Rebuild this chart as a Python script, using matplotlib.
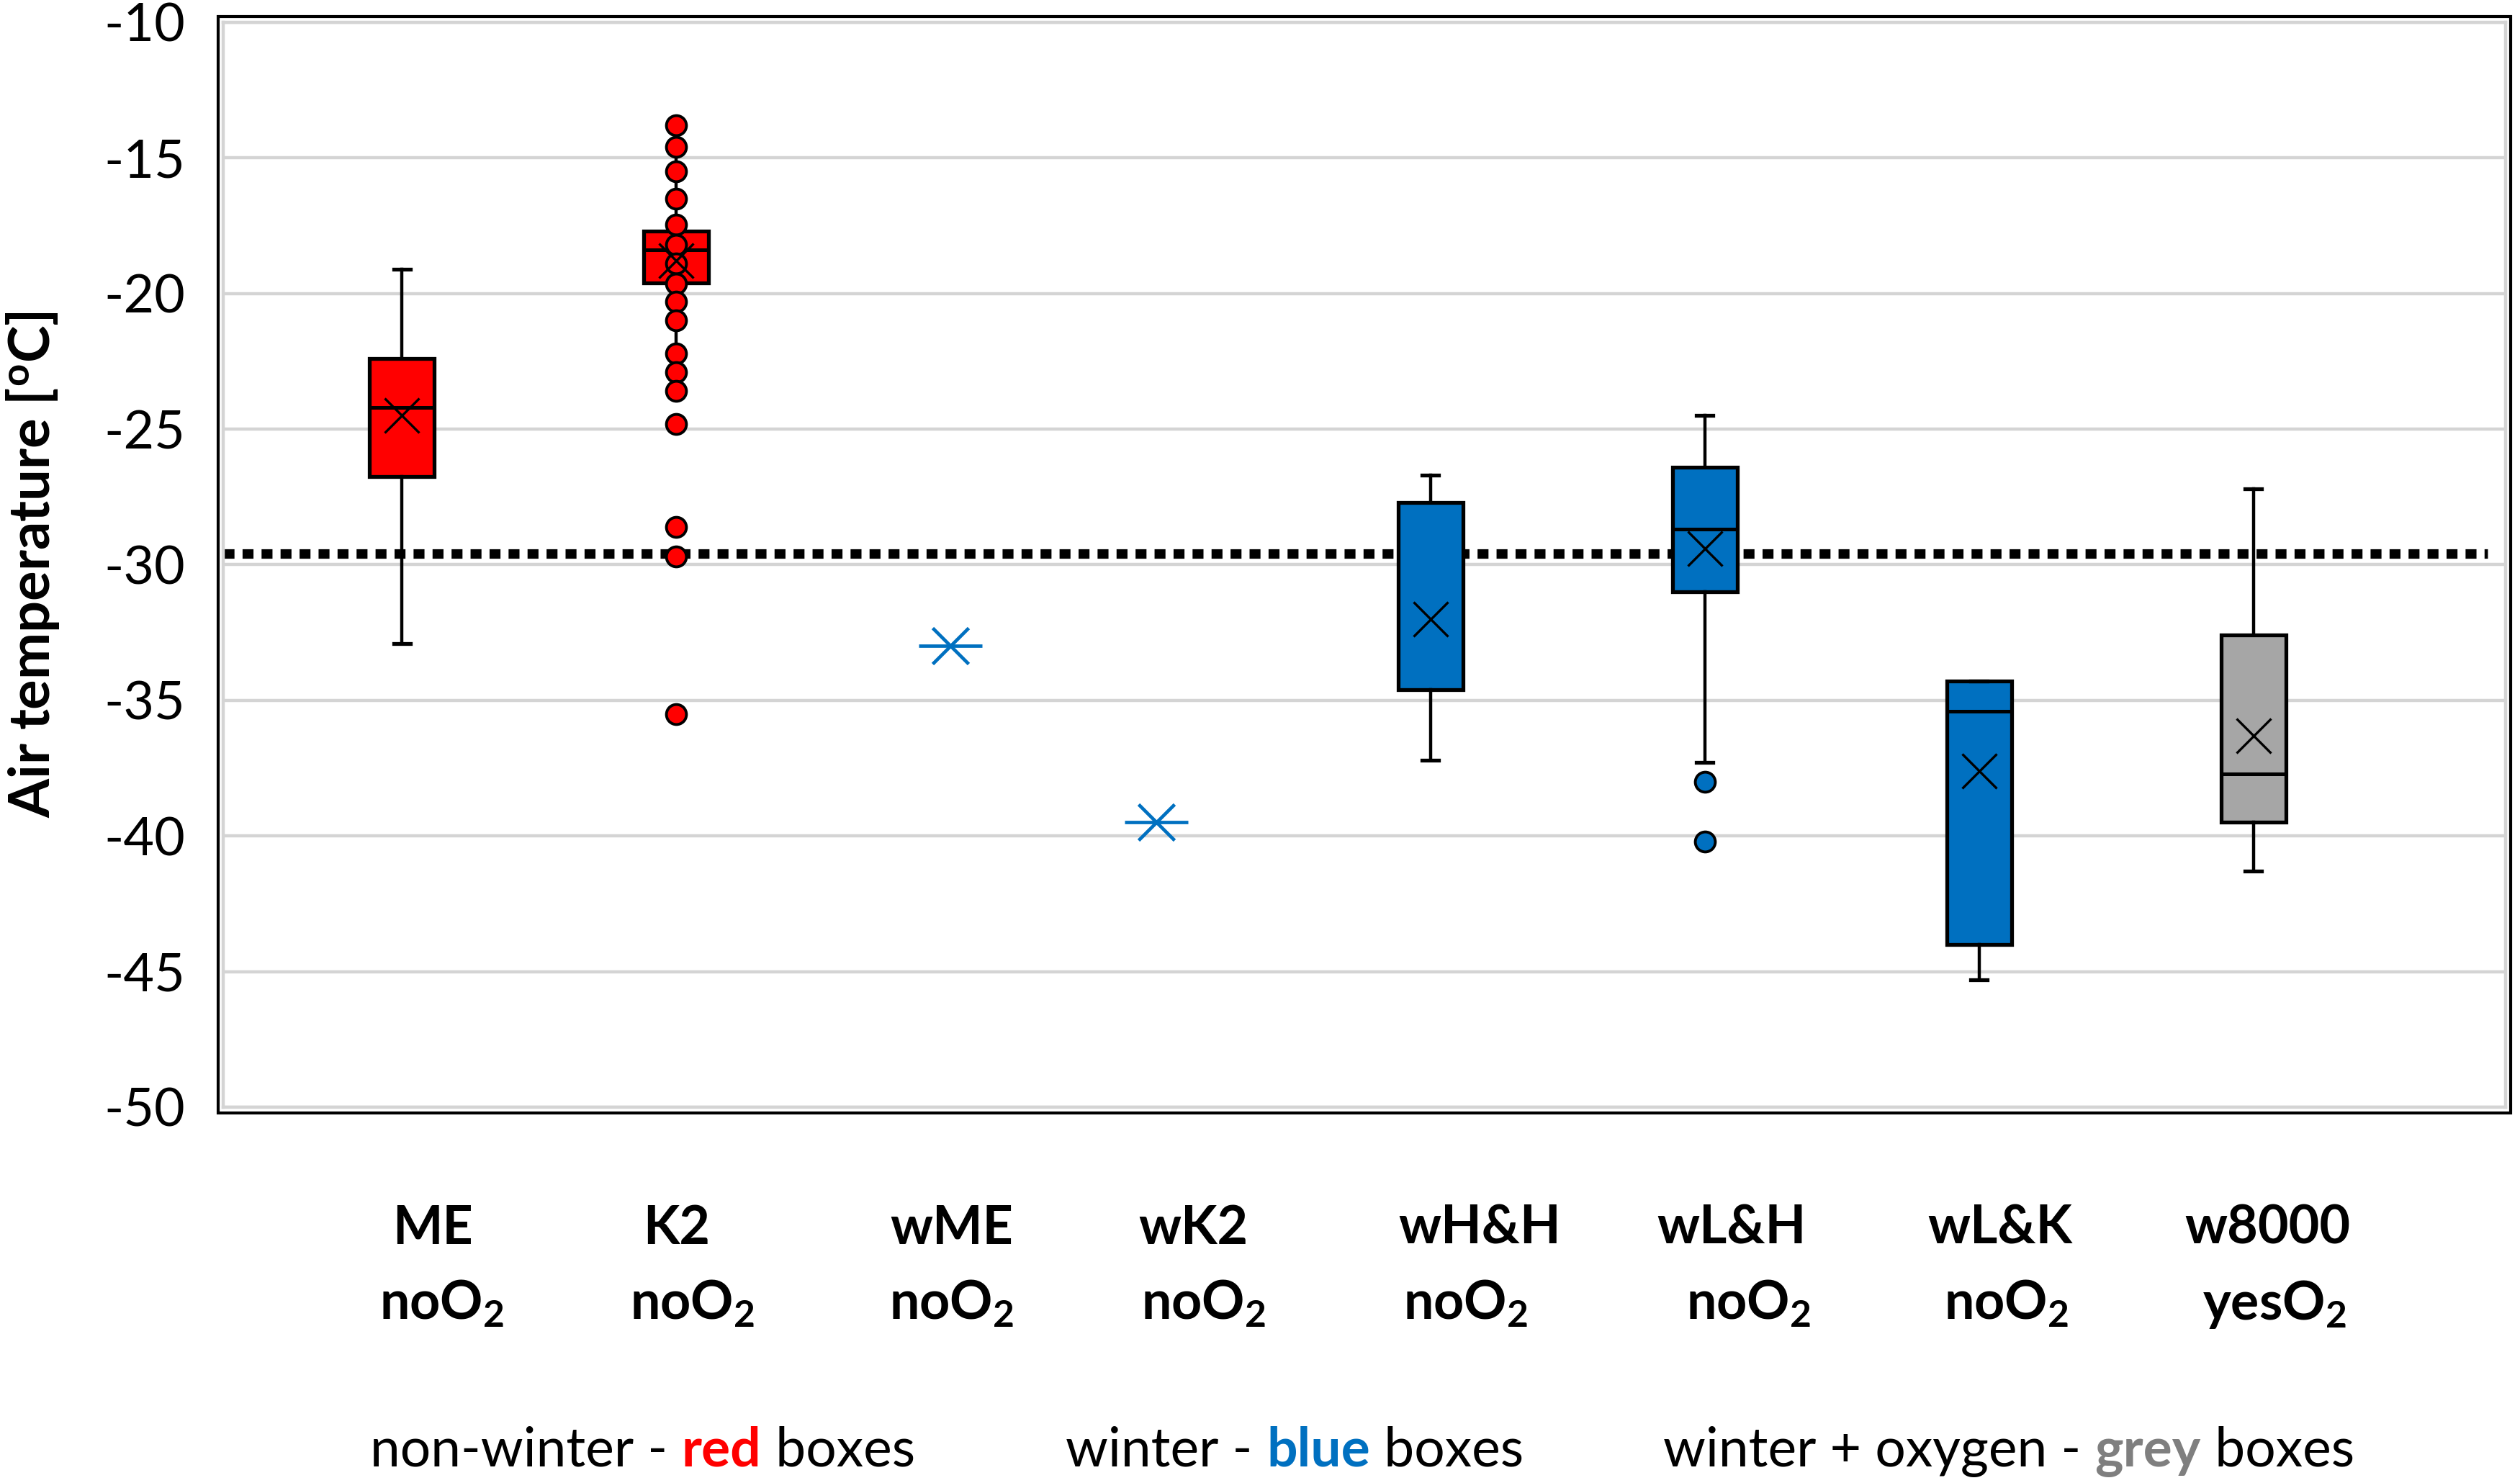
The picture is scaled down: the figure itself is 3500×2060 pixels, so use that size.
import matplotlib
matplotlib.use('Agg')
import matplotlib.pyplot as plt
import matplotlib.transforms as mtransforms
from matplotlib.patches import Rectangle

plt.rcParams['font.family'] = ['Lato', 'DejaVu Sans']
plt.rcParams['mathtext.fontset'] = 'custom'
plt.rcParams['mathtext.rm'] = 'Lato'
plt.rcParams['mathtext.bf'] = 'Lato:bold'
plt.rcParams['mathtext.it'] = 'Lato:italic'
plt.rcParams['axes.unicode_minus'] = False

# category labels (two lines under the axis)
names = ['ME', 'K2', 'wME', 'wK2', 'wH&H', 'wL&H', 'wL&K', 'w8000']
oxygen = ['noO$_\\mathbf{2}$'] * 7 + ['yesO$_\\mathbf{2}$']

# box statistics (deg C) for the categories that have boxes
box_names = ['ME', 'K2', 'wH&H', 'wL&H', 'wL&K', 'w8000']
whisker_high = [-19.1, -13.8, -26.7, -24.5, -34.3, -27.2]
q3 = [-22.4, -17.7, -27.7, -26.4, -34.3, -32.6]
median = [-24.2, -18.4, -27.7, -28.7, -35.4, -37.7]
q1 = [-26.75, -19.6, -34.6, -31.0, -44.0, -39.5]
whisker_low = [-32.9, -23.6, -37.2, -37.3, -45.3, -41.3]
mean = [-24.5, -18.8, -32.0, -29.4, -37.6, -36.3]
box_colors = ['#FF0000', '#FF0000', '#0070C0', '#0070C0', '#0070C0', '#A6A6A6']

# single points shown as dots
points = {
    'K2': [-13.8, -14.6, -15.5, -16.5, -17.45, -18.2, -18.9, -19.65, -20.3,
           -21.0, -22.2, -22.9, -23.6, -24.8, -28.6, -29.7, -35.5],
    'wL&H': [-38.0, -40.2],
}

# single measurements (asterisks)
single_names = ['wME', 'wK2']
single_values = [-33.0, -39.5]

reference_line = -29.6

# layout: x position of each category on the axis
xpos = {'ME': 0, 'K2': 1, 'wME': 2, 'wK2': 2.75, 'wH&H': 3.75,
        'wL&H': 4.75, 'wL&K': 5.75, 'w8000': 6.75}
label_x_top = [0.113, 1.0, 2.005, 2.885, 3.929, 4.848, 5.827, 6.801]
label_x_bottom = [0.147, 1.06, 2.005, 2.924, 3.879, 4.910, 5.848, 6.827]

fig = plt.figure(figsize=(35, 20.6), dpi=100)
ax = fig.add_axes([0.0886, 0.2534, 0.9057, 0.7316])

stats = []
for i, n in enumerate(box_names):
    stats.append(dict(label=n, whislo=whisker_low[i], q1=q1[i], med=median[i],
                      q3=q3[i], whishi=whisker_high[i], mean=mean[i],
                      fliers=points.get(n, [])))

bp = ax.bxp(stats, positions=[xpos[n] for n in box_names], widths=0.235,
            patch_artist=True, showmeans=True, capwidths=0.06, manage_ticks=False,
            boxprops=dict(edgecolor='black', linewidth=3.8),
            whiskerprops=dict(color='black', linewidth=3.2),
            capprops=dict(color='black', linewidth=3.8),
            medianprops=dict(color='black', linewidth=3.6),
            meanprops=dict(marker='x', markeredgecolor='black', markersize=34,
                           markeredgewidth=2.4),
            flierprops=dict(marker='o', markersize=20, markeredgecolor='black',
                            markeredgewidth=2.8))
for patch, c in zip(bp['boxes'], box_colors):
    patch.set_facecolor(c)
for fl, c in zip(bp['fliers'], box_colors):
    fl.set_markerfacecolor(c)
    fl.set_zorder(3)
for m in bp['means']:
    m.set_zorder(4)

# asterisks for single measurements
sx = [xpos[n] for n in single_names]
ax.plot(sx, single_values, ls='none', marker='_', markersize=63,
        markeredgewidth=3.4, color='#0070C0', zorder=3)
ax.plot(sx, single_values, ls='none', marker='x', markersize=36,
        markeredgewidth=3.4, color='#0070C0', zorder=3)

ax.set_xlim(-0.651, 7.669)
ax.set_ylim(-50, -10)
ax.set_yticks(range(-50, -9, 5))
ax.set_xticks([])
ax.tick_params(axis='y', length=0, pad=38, labelsize=53)
ax.yaxis.grid(True, color='#D4D4D4', linewidth=3.2, zorder=0)
ax.set_axisbelow(True)
for sp in ax.spines.values():
    sp.set_color('#D4D4D4')
    sp.set_linewidth(3.2)

# black outer frame around the plot area
ax.add_patch(Rectangle((-0.0023, -0.0053), 1.0046, 1.0106, transform=ax.transAxes,
                       fill=False, edgecolor='black', linewidth=3, clip_on=False, zorder=5))

ax.axhline(reference_line, xmin=0, xmax=0.992, color='black', linewidth=9.5,
           dashes=(1.15, 0.85), zorder=1.5)

ax.set_ylabel('Air temperature [$^\\mathbf{o}$C]', fontsize=56, fontweight='bold',
              va='center')
ax.yaxis.set_label_coords(-0.0835, 0.5)

# category labels below the axis
blend = mtransforms.blended_transform_factory(ax.transData, fig.transFigure)
for i in range(len(names)):
    ax.text(label_x_top[i], 0.1612, names[i], transform=blend, ha='center',
            va='baseline', fontsize=53, fontweight='bold')
    ax.text(label_x_bottom[i], 0.1102, oxygen[i], transform=blend, ha='center',
            va='baseline', fontsize=53, fontweight='bold')

# colour key text along the bottom
fig.canvas.draw()
renderer = fig.canvas.get_renderer()


def piece_text(x, y, parts):
    for s, color, weight in parts:
        t = fig.text(x, y, s, color=color, fontweight=weight, fontsize=54,
                     va='baseline', ha='left')
        x += t.get_window_extent(renderer).width / fig.bbox.width


piece_text(0.147, 0.0112, [('non-winter - ', 'black', 'normal'),
                           ('red', '#FF0000', 'bold'),
                           (' boxes', 'black', 'normal')])
piece_text(0.423, 0.0112, [('winter - ', 'black', 'normal'),
                           ('blue', '#0070C0', 'bold'),
                           (' boxes', 'black', 'normal')])
piece_text(0.660, 0.0112, [('winter + oxygen - ', 'black', 'normal'),
                           ('grey', '#7F7F7F', 'bold'),
                           (' boxes', 'black', 'normal')])

fig.savefig('out.png', dpi=100)
